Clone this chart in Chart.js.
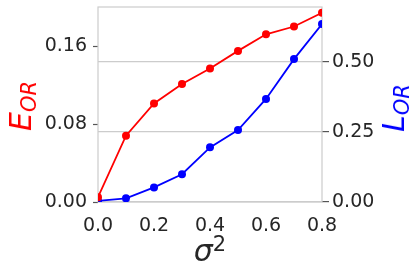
<!DOCTYPE html>
<html>
<head>
<meta charset="utf-8">
<script src="https://cdn.jsdelivr.net/npm/chart.js@4"></script>
<style>
  body { margin: 0; background: #fff; }
  #wrap { position: relative; width: 420px; height: 276px; font-family: "DejaVu Sans", sans-serif; }
  .titulo { position: absolute; white-space: nowrap; line-height: 1; font-size: 30px; }
  .titulo i { font-style: italic; }
  .titulo sub { font-size: 0.7em; vertical-align: baseline; position: relative; top: 0.22em; font-style: italic; }
  .titulo sup { font-size: 0.7em; vertical-align: baseline; position: relative; top: -0.5em; }
</style>
</head>
<body>
<div id="wrap">
  <canvas id="grafico" width="420" height="276"></canvas>
  <div class="titulo" id="tituloIzq" style="left:21px; top:106px; color:#ff0000; transform:translate(-50%,-50%) rotate(-90deg);"><i>E</i><sub>OR</sub></div>
  <div class="titulo" id="tituloDer" style="left:394px; top:108px; color:#0000ff; transform:translate(-50%,-50%) rotate(-90deg);"><i>L</i><sub>OR</sub></div>
  <div class="titulo" id="tituloX" style="left:210px; top:251px; color:#262626; transform:translate(-50%,-50%);"><i>σ</i><sup>2</sup></div>
</div>
<script>
// datos
const sigma2 = [0.0, 0.1, 0.2, 0.3, 0.4, 0.5, 0.6, 0.7, 0.8];
const eOR = [0.005, 0.068, 0.101, 0.121, 0.137, 0.155, 0.172, 0.180, 0.194];
const lOR = [0.004, 0.013, 0.052, 0.099, 0.195, 0.257, 0.368, 0.510, 0.635];

const ticksX = [0.0, 0.2, 0.4, 0.6, 0.8];
const ticksIzq = [0.00, 0.08, 0.16];
const ticksDer = [0.00, 0.25, 0.50];

const colorTexto = '#262626';
const colorGris = '#cccccc';
const fuenteTicks = { family: 'DejaVu Sans', size: 19 };

// marco gris alrededor del area del grafico
const marco = {
  id: 'marco',
  beforeDatasetsDraw(chart) {
    const { ctx, chartArea: a } = chart;
    ctx.save();
    ctx.strokeStyle = colorGris;
    ctx.lineWidth = 1.2;
    ctx.strokeRect(a.left, a.top, a.right - a.left, a.bottom - a.top);
    ctx.restore();
  }
};

// ancho fijo de los ejes, sin relleno extra por las etiquetas
function anchoFijo(s) {
  s.width = 98;
  s.paddingTop = 0;
  s.paddingBottom = 0;
}

const puntosE = sigma2.map((x, i) => ({ x: x, y: eOR[i] }));
const puntosL = sigma2.map((x, i) => ({ x: x, y: lOR[i] }));

new Chart(document.getElementById('grafico').getContext('2d'), {
  type: 'line',
  data: {
    datasets: [
      { data: puntosE, yAxisID: 'yIzq', borderColor: '#ff0000', backgroundColor: '#ff0000',
        borderWidth: 1.8, pointRadius: 4, pointBorderWidth: 0, tension: 0 },
      { data: puntosL, yAxisID: 'yDer', borderColor: '#0000ff', backgroundColor: '#0000ff',
        borderWidth: 1.8, pointRadius: 4, pointBorderWidth: 0, tension: 0 }
    ]
  },
  options: {
    responsive: false,
    animation: false,
    layout: { padding: { top: 7, left: 0, right: 0, bottom: 0 } },
    plugins: { legend: { display: false }, tooltip: { enabled: false } },
    scales: {
      x: {
        type: 'linear', min: 0, max: 0.8,
        afterBuildTicks: s => { s.ticks = ticksX.map(v => ({ value: v })); },
        afterFit: s => { s.height = 74; s.paddingLeft = 0; s.paddingRight = 0; },
        grid: { display: false },
        border: { display: false },
        ticks: { color: colorTexto, font: fuenteTicks, padding: 5, maxRotation: 0,
                 callback: v => Number(v).toFixed(1) }
      },
      yIzq: {
        type: 'linear', position: 'left', min: 0, max: 0.2,
        afterBuildTicks: s => { s.ticks = ticksIzq.map(v => ({ value: v })); },
        afterFit: anchoFijo,
        grid: { drawOnChartArea: false, tickLength: 5, tickColor: '#555555', tickWidth: 1.2 },
        border: { display: false },
        ticks: { color: colorTexto, font: fuenteTicks, padding: 6,
                 callback: v => Number(v).toFixed(2) }
      },
      yDer: {
        type: 'linear', position: 'right', min: 0, max: 0.696,
        afterBuildTicks: s => { s.ticks = ticksDer.map(v => ({ value: v })); },
        afterFit: anchoFijo,
        grid: { drawOnChartArea: true, color: colorGris, lineWidth: 1.2, tickLength: 7, tickColor: '#555555', tickWidth: 1.2 },
        border: { display: false },
        ticks: { color: colorTexto, font: fuenteTicks, padding: 3,
                 callback: v => Number(v).toFixed(2) }
      }
    }
  },
  plugins: [marco]
});
</script>
</body>
</html>
